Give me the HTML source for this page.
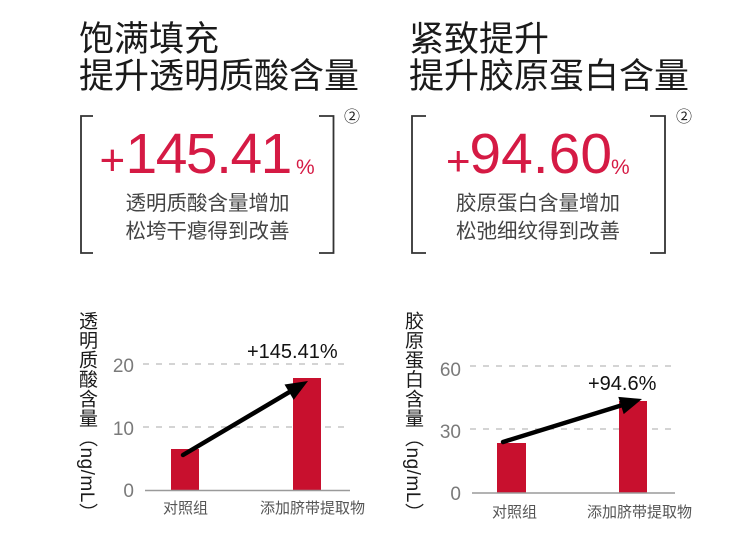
<!DOCTYPE html>
<html><head><meta charset="utf-8">
<style>
html,body{margin:0;padding:0;background:#fff;}
#w{position:relative;width:750px;height:560px;overflow:hidden;background:#fff;}
svg{position:absolute;left:0;top:0;}
.vl{position:absolute;writing-mode:vertical-rl;text-orientation:mixed;font-family:"Liberation Sans","Noto Sans CJK SC",sans-serif;font-size:19px;line-height:19px;color:#1a1a1a;white-space:nowrap;letter-spacing:0.5px;}
</style></head><body><div id="w">
<svg width="750" height="560" viewBox="0 0 750 560" xmlns="http://www.w3.org/2000/svg">
<g font-family="Liberation Sans, Noto Sans CJK SC, sans-serif">
<!-- titles -->
<g fill="#1a1a1a" font-size="35">
<text x="79" y="51">饱满填充</text>
<text x="79" y="88">提升透明质酸含量</text>
<text x="409" y="51">紧致提升</text>
<text x="409" y="88">提升胶原蛋白含量</text>
</g>
<!-- brackets -->
<g stroke="#333" stroke-width="1.8" fill="none">
<polyline points="93,116 81,116 81,253 93,253"/>
<polyline points="319,116 333.5,116 333.5,253 319,253"/>
<polyline points="426,116 412,116 412,253 426,253"/>
<polyline points="650,116 665,116 665,253 650,253"/>
</g>
<g fill="#222" font-size="16" font-family="Noto Sans CJK SC, sans-serif">
<text x="344" y="122">②</text>
<text x="676" y="122">②</text>
</g>
<!-- big numbers -->
<g fill="#d51a44">
<text x="99.5" y="175" font-size="44">+</text>
<text x="125.5" y="173" font-size="57" letter-spacing="-1.5">145.41</text>
<text x="296" y="174" font-size="21">%</text>
<text x="446" y="175" font-size="42">+</text>
<text x="469.4" y="173" font-size="57">94.60</text>
<text x="611" y="174" font-size="21">%</text>
</g>
<!-- sub text -->
<g fill="#444" font-size="20.5" text-anchor="middle">
<text x="207.5" y="210">透明质酸含量增加</text>
<text x="207.5" y="238">松垮干瘪得到改善</text>
<text x="538" y="210">胶原蛋白含量增加</text>
<text x="538" y="238">松弛细纹得到改善</text>
</g>

<!-- charts -->
<g stroke="#bbb" stroke-width="1.2" stroke-dasharray="6,7">
<line x1="143" y1="364" x2="347" y2="364"/>
<line x1="143" y1="427" x2="347" y2="427"/>
<line x1="470" y1="366" x2="672" y2="366"/>
<line x1="470" y1="429" x2="672" y2="429"/>
</g>
<g fill="#c8102e">
<rect x="171" y="449" width="28" height="41.5"/>
<rect x="293" y="378" width="28" height="112.5"/>
<rect x="497" y="443" width="29" height="50"/>
<rect x="619" y="401" width="28" height="92"/>
</g>
<g stroke="#9a9a9a" stroke-width="1.6">
<line x1="145" y1="490.5" x2="350" y2="490.5"/>
<line x1="472" y1="493" x2="675" y2="493"/>
</g>
<g fill="#7a7a7a" font-size="19" text-anchor="end">
<text x="134" y="372">20</text>
<text x="134" y="435">10</text>
<text x="134" y="497">0</text>
<text x="461" y="376">60</text>
<text x="461" y="438">30</text>
<text x="461" y="500">0</text>
</g>
<g fill="#555" font-size="15">
<text x="163" y="513">对照组</text>
<text x="260" y="513">添加脐带提取物</text>
<text x="492" y="517">对照组</text>
<text x="587" y="517">添加脐带提取物</text>
</g>
<!-- arrows -->
<g stroke="#000" stroke-width="4.5" stroke-linecap="round">
<line x1="183" y1="455" x2="289.1" y2="392.2"/>
<line x1="503" y1="442" x2="621" y2="405.5"/>
</g>
<g fill="#000">
<polygon points="308,381 293.7,399.9 284.5,384.5"/>
<polygon points="642,399 623.7,414.1 618.3,396.9"/>
</g>
<g fill="#111" font-size="20">
<text x="247" y="358">+145.41%</text>
<text x="588" y="390">+94.6%</text>
</g>
</g>
</svg>
<div class="vl" style="left:77px;top:311px;">透明质酸含量（ng/mL）</div>
<div class="vl" style="left:403px;top:311px;">胶原蛋白含量（ng/mL）</div>
</div></body></html>
